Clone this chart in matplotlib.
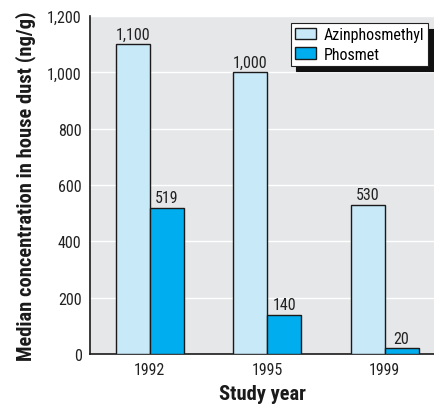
import matplotlib
matplotlib.use("Agg")
import matplotlib.pyplot as plt
import numpy as np
from matplotlib import font_manager

years = ["1992", "1995", "1999"]
azinphosmethyl = [1100, 1000, 530]
phosmet = [519, 140, 20]
labels_az = ["1,100", "1,000", "530"]
labels_ph = ["519", "140", "20"]
yticks = [0, 200, 400, 600, 800, 1000, 1200]
ytick_labels = ["0", "200", "400", "600", "800", "1,000", "1,200"]

names = {f.name for f in font_manager.fontManager.ttflist}
fam = "Liberation Sans"
for cand in ["Roboto Condensed", "Archivo Narrow", "PT Sans Narrow", "Fira Sans Condensed",
             "IBM Plex Sans Condensed", "Barlow Semi Condensed"]:
    if cand in names:
        fam = cand
        break
plt.rcParams["font.family"] = [fam, "DejaVu Sans"]

fig = plt.figure(figsize=(4.35, 4.06), dpi=100)
ax = fig.add_axes([90/435, 51/406, 345/435, 338/406])
ax.set_facecolor("#e6e7e8")

x = np.arange(len(years))
w = 0.29
light = "#c8e9f8"
dark = "#00aeef"
ax.bar(x - w/2, azinphosmethyl, w, color=light, edgecolor="#1a1a1a", linewidth=1.0, label="Azinphosmethyl", zorder=3)
ax.bar(x + w/2, phosmet, w, color=dark, edgecolor="#1a1a1a", linewidth=1.0, label="Phosmet", zorder=3)

fs = 11.5
for xi, v, t in zip(x - w/2, azinphosmethyl, labels_az):
    ax.text(xi, v + 10, t, ha="center", va="bottom", fontsize=fs, color="#222222")
for xi, v, t in zip(x + w/2, phosmet, labels_ph):
    ax.text(xi, v + 10, t, ha="center", va="bottom", fontsize=fs, color="#222222")

ax.set_ylim(0, 1200)
ax.set_xlim(-0.51, 2.43)
ax.set_yticks(yticks)
ax.set_yticklabels(ytick_labels, fontsize=fs, color="#222222")
ax.set_xticks(x)
ax.set_xticklabels(years, fontsize=fs, color="#222222")
ax.tick_params(length=0)
ax.tick_params(axis="y", pad=6)
ax.tick_params(axis="x", pad=5.5)
ax.yaxis.grid(True, color="white", linewidth=1.0, zorder=0)
ax.set_axisbelow(True)
for s in ["top", "right"]:
    ax.spines[s].set_visible(False)
for s in ["left", "bottom"]:
    ax.spines[s].set_color("#1a1a1a")
    ax.spines[s].set_linewidth(1.2)

ax.set_ylabel("Median concentration in house dust (ng/g)", fontsize=14.8, fontweight="bold",
              labelpad=8, color="#1a1a1a")
ax.set_xlabel("Study year", fontsize=14.8, fontweight="bold", labelpad=5.5, color="#1a1a1a")

leg = ax.legend(loc="upper right", bbox_to_anchor=(0.98, 0.979), fontsize=fs, frameon=True,
                fancybox=False, shadow={"color": "#111111", "alpha": 1.0, "ox": 4, "oy": -4},
                borderpad=0.25, handlelength=1.3, handleheight=0.75, handletextpad=0.5,
                labelspacing=0.3, borderaxespad=0.0)
leg.get_frame().set_edgecolor("#222222")
leg.get_frame().set_facecolor("white")
leg.get_frame().set_linewidth(0.8)

fig.savefig("out.png", dpi=100)
